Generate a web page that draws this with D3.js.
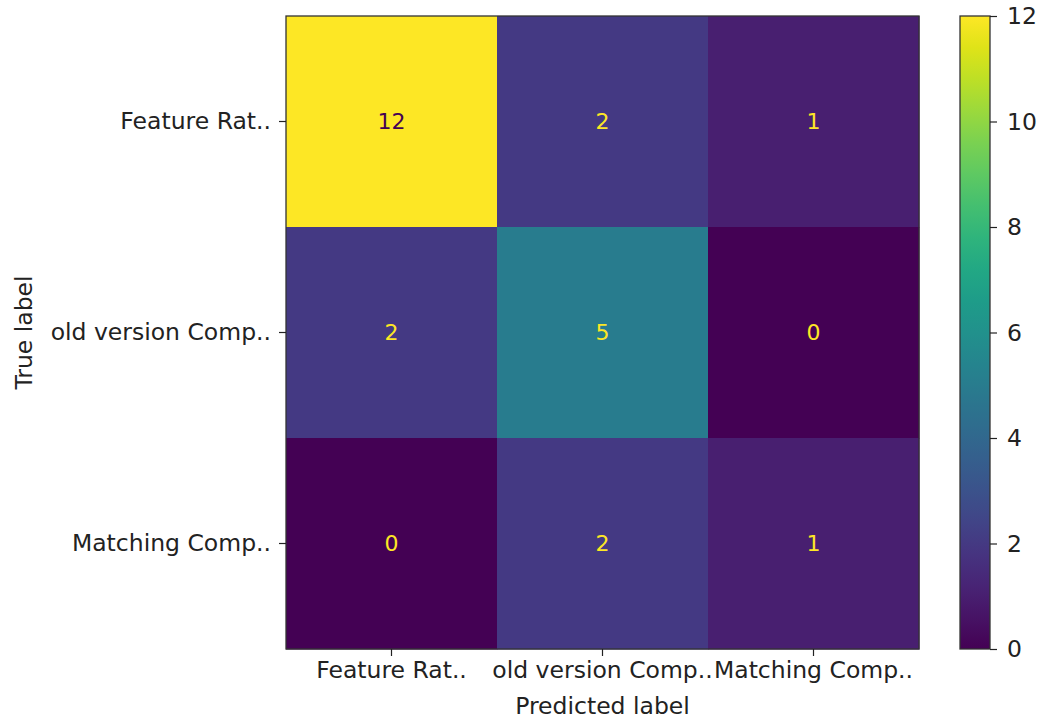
<!DOCTYPE html>
<html>
<head>
<meta charset="utf-8">
<script src="https://d3js.org/d3.v7.min.js"></script>
<style>
  body { margin: 0; background: #fff; }
  text { font-family: "DejaVu Sans", sans-serif; }
</style>
</head>
<body>
<div id="chart"></div>
<script>
// Data
const labels = ["Feature Rat..", "old version Comp..", "Matching Comp.."];
const matrix = [
  [12, 2, 1],
  [2, 5, 0],
  [0, 2, 1]
];
const colorTicks = [0, 2, 4, 6, 8, 10, 12];

const width = 1043, height = 721;
const plot = { left: 286, top: 16, size: 633 };
const bar = { left: 960, width: 30 };
const fs = 23.5;

const svg = d3.select("#chart").append("svg")
  .attr("width", width)
  .attr("height", height);

const x = d3.scaleBand().domain(d3.range(3)).range([plot.left, plot.left + plot.size]);
const y = d3.scaleBand().domain(d3.range(3)).range([plot.top, plot.top + plot.size]);
const color = d3.scaleSequential(d3.interpolateViridis).domain([0, 12]);

const cells = matrix.flatMap((row, i) => row.map((v, j) => ({ i, j, v })));

svg.append("g").selectAll("rect")
  .data(cells)
  .join("rect")
  .attr("x", d => x(d.j))
  .attr("y", d => y(d.i))
  .attr("width", x.bandwidth() + 0.5)
  .attr("height", y.bandwidth() + 0.5)
  .attr("fill", d => color(d.v));

svg.append("g").selectAll("text")
  .data(cells)
  .join("text")
  .attr("x", d => x(d.j) + x.bandwidth() / 2)
  .attr("y", d => y(d.i) + y.bandwidth() / 2)
  .attr("text-anchor", "middle")
  .attr("dy", "0.36em")
  .attr("font-size", 22)
  .attr("fill", d => d.v > 6 ? "#440154" : "#fde725")
  .text(d => d.v);

// frame
svg.append("rect")
  .attr("x", plot.left).attr("y", plot.top)
  .attr("width", plot.size).attr("height", plot.size)
  .attr("fill", "none").attr("stroke", "#333").attr("stroke-width", 1.3);

// axes
const xAxis = svg.append("g")
  .attr("transform", `translate(0,${plot.top + plot.size})`)
  .call(d3.axisBottom(x).tickFormat(i => labels[i]).tickSize(7).tickPadding(5));
const yAxis = svg.append("g")
  .attr("transform", `translate(${plot.left},0)`)
  .call(d3.axisLeft(y).tickFormat(i => labels[i]).tickSize(7).tickPadding(8));
[xAxis, yAxis].forEach(a => {
  a.select(".domain").remove();
  a.selectAll("line").attr("stroke", "#222").attr("stroke-width", 1.2);
  a.selectAll("text").attr("font-size", fs).attr("fill", "#222")
    .style("font-family", "DejaVu Sans, sans-serif");
});

svg.append("text")
  .attr("x", plot.left + plot.size / 2)
  .attr("y", 714)
  .attr("text-anchor", "middle")
  .attr("font-size", fs).attr("fill", "#222")
  .text("Predicted label");

svg.append("text")
  .attr("transform", `translate(32,${plot.top + plot.size / 2}) rotate(-90)`)
  .attr("text-anchor", "middle")
  .attr("font-size", fs).attr("fill", "#222")
  .text("True label");

// colorbar
const defs = svg.append("defs");
const grad = defs.append("linearGradient")
  .attr("id", "viridis").attr("x1", 0).attr("y1", 1).attr("x2", 0).attr("y2", 0);
d3.range(0, 1.0001, 0.05).forEach(t => {
  grad.append("stop").attr("offset", t).attr("stop-color", d3.interpolateViridis(t));
});

const cy = d3.scaleLinear().domain([0, 12]).range([plot.top + plot.size, plot.top]);

svg.append("rect")
  .attr("x", bar.left).attr("y", plot.top)
  .attr("width", bar.width).attr("height", plot.size)
  .attr("fill", "url(#viridis)")
  .attr("stroke", "#333").attr("stroke-width", 1.3);

const cAxis = svg.append("g")
  .attr("transform", `translate(${bar.left + bar.width},0)`)
  .call(d3.axisRight(cy).tickValues(colorTicks).tickSize(7).tickPadding(10));
cAxis.select(".domain").remove();
cAxis.selectAll("line").attr("stroke", "#222").attr("stroke-width", 1.2);
cAxis.selectAll("text").attr("font-size", fs).attr("fill", "#222")
  .style("font-family", "DejaVu Sans, sans-serif");
</script>
</body>
</html>
